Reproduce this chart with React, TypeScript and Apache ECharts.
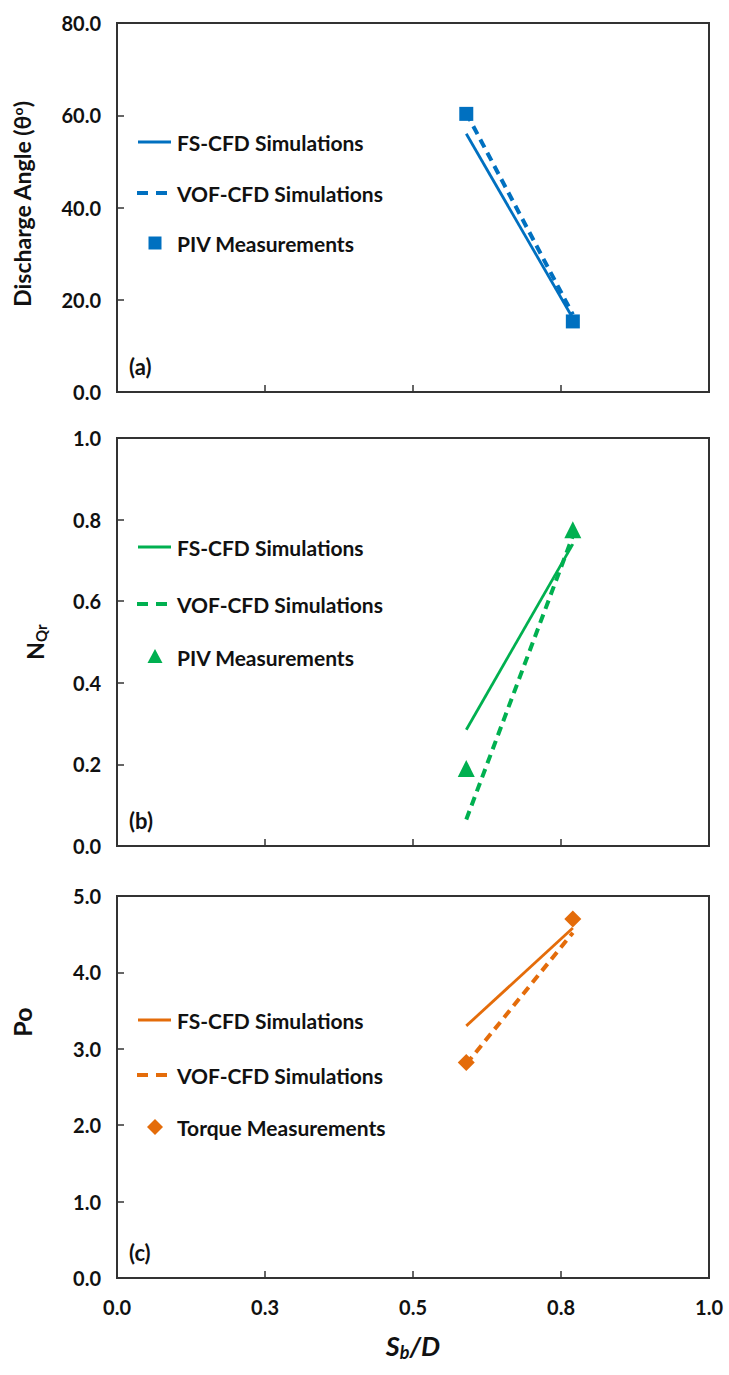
import React, { useEffect, useRef } from "react";
import * as echarts from "echarts";

// ---- data ----
const sbD = [0.59, 0.77];
const angleFS = [56.0, 16.0];
const angleVOF = [60.5, 16.8];
const anglePIV = [60.3, 15.3];
const nqrFS = [0.285, 0.74];
const nqrVOF = [0.065, 0.76];
const nqrPIV = [0.19, 0.775];
const poFS = [3.3, 4.58];
const poVOF = [2.8, 4.52];
const poTorque = [2.82, 4.7];

const legendA = ["FS-CFD Simulations", "VOF-CFD Simulations", "PIV Measurements"];
const legendB = ["FS-CFD Simulations", "VOF-CFD Simulations", "PIV Measurements"];
const legendC = ["FS-CFD Simulations", "VOF-CFD Simulations", "Torque Measurements"];
const panelTags = ["(a)", "(b)", "(c)"];

const BLUE = "#0070C0";
const GREEN = "#00B050";
const ORANGE = "#E46C0A";
const AXIS = "#333333";
const TXT = "#111111";
const FONT = "Lato, 'Open Sans', sans-serif";

const W = 729;
const H = 1375;

const grids = [
  { left: 117, top: 23, width: 592, height: 369 },
  { left: 117, top: 438, width: 592, height: 408 },
  { left: 117, top: 896, width: 592, height: 382 },
];
const yRanges = [
  { min: 0, max: 80, interval: 20 },
  { min: 0, max: 1, interval: 0.2 },
  { min: 0, max: 5, interval: 1 },
];
const legendRows = [
  [142, 193, 243],
  [547, 604, 657],
  [1020, 1075, 1127],
];
const colors = [BLUE, GREEN, ORANGE];
const markerSymbols = ["rect", "triangle", "diamond"];
const markerSizes = [14, 17, 17];

const pairs = (ys: number[]) => sbD.map((x, i) => [x, ys[i]]);

export default function App() {
  const ref = useRef<HTMLDivElement>(null);
  useEffect(() => {
    if (!ref.current) return;
    const chart = echarts.init(ref.current, undefined, { renderer: "svg" });

    const panels = [
      { fs: angleFS, vof: angleVOF, meas: anglePIV, legend: legendA },
      { fs: nqrFS, vof: nqrVOF, meas: nqrPIV, legend: legendB },
      { fs: poFS, vof: poVOF, meas: poTorque, legend: legendC },
    ];

    const series: any[] = [];
    panels.forEach((p, i) => {
      const c = colors[i];
      series.push({
        type: "line",
        name: p.legend[0],
        xAxisIndex: i,
        yAxisIndex: i,
        data: pairs(p.fs),
        symbol: "none",
        lineStyle: { color: c, width: 2.8 },
        z: 3,
      });
      series.push({
        type: "line",
        name: p.legend[1],
        xAxisIndex: i,
        yAxisIndex: i,
        data: pairs(p.vof),
        symbol: "none",
        lineStyle: { color: c, width: 4, type: [9, 6] },
        z: 3,
      });
      series.push({
        type: "scatter",
        name: p.legend[2],
        xAxisIndex: i,
        yAxisIndex: i,
        data: pairs(p.meas),
        symbol: markerSymbols[i],
        symbolSize: markerSizes[i],
        itemStyle: { color: c, opacity: 1 },
        z: 4,
      });
    });

    const graphic: any[] = [];
    panels.forEach((p, i) => {
      const c = colors[i];
      const rows = legendRows[i];
      graphic.push({
        type: "line",
        shape: { x1: 138, y1: rows[0], x2: 171, y2: rows[0] },
        style: { stroke: c, lineWidth: 2.8 },
      });
      graphic.push({
        type: "line",
        shape: { x1: 137, y1: rows[1], x2: 170, y2: rows[1] },
        style: { stroke: c, lineWidth: 4, lineDash: [11, 8] },
      });
      const mx = 155;
      const my = rows[2];
      if (i === 0) {
        graphic.push({
          type: "rect",
          shape: { x: mx - 6.5, y: my - 6.5, width: 13, height: 13 },
          style: { fill: c },
        });
      } else if (i === 1) {
        graphic.push({
          type: "polygon",
          shape: { points: [[mx, my - 8], [mx + 7.5, my + 6], [mx - 7.5, my + 6]] },
          style: { fill: c },
        });
      } else {
        graphic.push({
          type: "polygon",
          shape: { points: [[mx, my - 8], [mx + 8, my], [mx, my + 8], [mx - 8, my]] },
          style: { fill: c },
        });
      }
      p.legend.forEach((t, k) => {
        graphic.push({
          type: "text",
          x: 177,
          y: rows[k],
          style: {
            text: t,
            font: `bold 21px ${FONT}`,
            fill: TXT,
            verticalAlign: "middle",
            align: "left",
          },
        });
      });
      const g = grids[i];
      graphic.push({
        type: "text",
        x: g.left + 12,
        y: g.top + g.height - 26,
        style: {
          text: panelTags[i],
          font: `bold 22px ${FONT}`,
          fill: TXT,
          verticalAlign: "middle",
          align: "left",
        },
      });
    });

    graphic.push({
      type: "text",
      x: 22,
      y: 204,
      rotation: Math.PI / 2,
      style: {
        text: "Discharge Angle (θ{sup|o})",
        font: `bold 23px ${FONT}`,
        fill: TXT,
        align: "center",
        verticalAlign: "middle",
        rich: {
          sup: { font: `bold 14px ${FONT}`, verticalAlign: "top", fill: TXT, padding: [0, 0, 9, 0] },
        },
      },
    });
    graphic.push({
      type: "text",
      x: 35,
      y: 642,
      rotation: Math.PI / 2,
      style: {
        text: "N{sub|Qr}",
        font: `bold 23px ${FONT}`,
        fill: TXT,
        align: "center",
        verticalAlign: "middle",
        rich: {
          sub: { font: `bold 15px ${FONT}`, fill: TXT, padding: [11, 0, 0, 0] },
        },
      },
    });
    graphic.push({
      type: "text",
      x: 22,
      y: 1022,
      rotation: Math.PI / 2,
      style: {
        text: "Po",
        font: `bold 25px ${FONT}`,
        fill: TXT,
        align: "center",
        verticalAlign: "middle",
      },
    });
    graphic.push({
      type: "text",
      x: 413,
      y: 1345,
      style: {
        text: "S{sub|b}/D",
        font: `italic bold 27px ${FONT}`,
        fill: TXT,
        align: "center",
        verticalAlign: "middle",
        rich: {
          sub: { font: `italic bold 18px ${FONT}`, fill: TXT, padding: [13, 0, 0, 0] },
        },
      },
    });

    const option: any = {
      animation: false,
      backgroundColor: "#ffffff",
      grid: grids.map((g) => ({
        ...g,
        show: true,
        borderColor: AXIS,
        borderWidth: 2,
        backgroundColor: "transparent",
      })),
      xAxis: grids.map((_, i) => ({
        type: "value",
        gridIndex: i,
        min: 0,
        max: 1,
        interval: 0.25,
        axisLine: { show: true, lineStyle: { color: AXIS, width: 2 } },
        axisTick: { show: true, inside: true, length: 7, lineStyle: { color: AXIS, width: 1.5 } },
        splitLine: { show: false },
        axisLabel: {
          show: i === 2,
          formatter: (v: number) => v.toFixed(1),
          color: TXT,
          fontFamily: FONT,
          fontWeight: "bold",
          fontSize: 20,
          margin: 19,
        },
      })),
      yAxis: grids.map((_, i) => ({
        type: "value",
        gridIndex: i,
        ...yRanges[i],
        axisLine: { show: true, lineStyle: { color: AXIS, width: 2 } },
        axisTick: { show: true, inside: true, length: 7, lineStyle: { color: AXIS, width: 1.5 } },
        splitLine: { show: false },
        axisLabel: {
          formatter: (v: number) => v.toFixed(1),
          color: TXT,
          fontFamily: FONT,
          fontWeight: "bold",
          fontSize: 20,
          margin: 16,
        },
      })),
      series,
      graphic,
    };
    chart.setOption(option);
    return () => chart.dispose();
  }, []);

  return (
    <div
      ref={ref}
      style={{ position: "absolute", left: 0, top: 0, width: W, height: H, background: "#fff" }}
    />
  );
}
